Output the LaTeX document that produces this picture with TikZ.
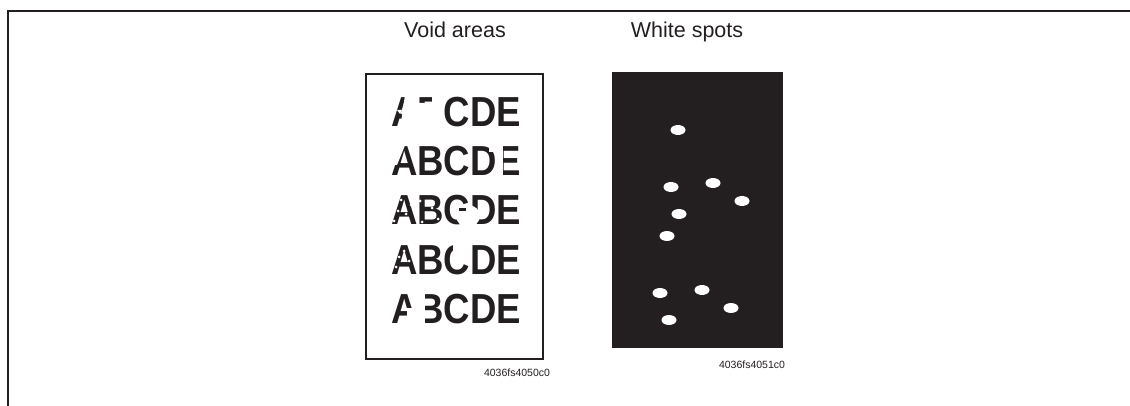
\documentclass[tikz,border=0pt]{standalone}
\usepackage{fontspec}
\setmainfont{Liberation Sans}
\usetikzlibrary{shapes.geometric}
\definecolor{ink}{HTML}{231F20}
\begin{document}
\begin{tikzpicture}[x=1pt,y=-1pt,
  frame/.style={draw=ink,line width=2pt},
  title/.style={anchor=base,inner sep=0pt,font=\fontsize{21.5}{21.5}\selectfont,text=ink},
  code/.style={anchor=base,inner sep=0pt,font=\fontsize{10.5}{10.5}\selectfont,text=ink},
  row/.style={anchor=base west,inner sep=0pt,font=\fontsize{42}{42}\selectfont\bfseries,text=ink},
  void/.style={fill=white,draw=none},
  spot/.style={fill=white,draw=none,ellipse,minimum width=15pt,minimum height=10pt,inner sep=0pt}]
\useasboundingbox (0,0) rectangle (1130,406);
% outer frame
\draw[frame] (8,406) -- (8,11) -- (1130,11);
% titles
\node[title] (t1) at (455,38) {Void areas};
\node[title] (t2) at (687,38) {White spots};
% void areas panel
\node[row] (r1) at (391,127) {\scalebox{0.87}[1]{ABCDE}};
\node[row] (r2) at (391,176) {\scalebox{0.87}[1]{ABCDE}};
\node[row] (r3) at (391,225) {\scalebox{0.87}[1]{ABCDE}};
\node[row] (r4) at (391,274) {\scalebox{0.87}[1]{ABCDE}};
\node[row] (r5) at (391,323) {\scalebox{0.87}[1]{ABCDE}};
% void patches row 1
\fill[void] (405,95) -- (417,95) -- (417,103) -- (425,103) -- (425,107) -- (432,107) -- (432,95) -- (444,95) -- (444,129) -- (400,129) -- cycle;
\fill[void] (397,110) -- (402,110) -- (400,114) -- cycle;
% row 2
\fill[void] (389,143) -- (406,143) -- (397,165) -- (389,165) -- cycle;
\fill[void] (495.5,143) rectangle (503,178);
\fill[void] (489,143) rectangle (495.5,152);
% row 3
\fill[void] (468,216) ellipse (12 and 11);
\fill[ink] (459,208) rectangle (466,211);
\foreach \p in {(394,221),(398,211),(401,200),(406,214),(411,205),(420,201),(426,213),(422,222),(432,208),(438,219)}
  \fill[void] \p circle (1.5);
% row 4
\fill[void] (453,242) rectangle (471,256);
\foreach \p in {(396,267),(399,257),(404,251),(409,261)}
  \fill[void] \p circle (1.5);
% row 5
\fill[void] (407,308) rectangle (417,325);
\fill[void] (417,291) rectangle (424.5,325);
% box
\draw[draw=ink,line width=2.5pt] (366,74) rectangle (543,359);
\node[code] (c1) at (517,376) {4036fs4050c0};
% white spots panel
\fill[ink] (612,72) rectangle (783,348);
\node[spot] (s1) at (678,130) {};
\node[spot] (s2) at (671,187) {};
\node[spot] (s3) at (713,183) {};
\node[spot] (s4) at (742,201) {};
\node[spot] (s5) at (679,214) {};
\node[spot] (s6) at (667,236) {};
\node[spot] (s7) at (660,293) {};
\node[spot] (s8) at (702,290) {};
\node[spot] (s9) at (731,308) {};
\node[spot] (s10) at (669,320) {};
\node[code] (c2) at (752,368) {4036fs4051c0};
\end{tikzpicture}
\end{document}
